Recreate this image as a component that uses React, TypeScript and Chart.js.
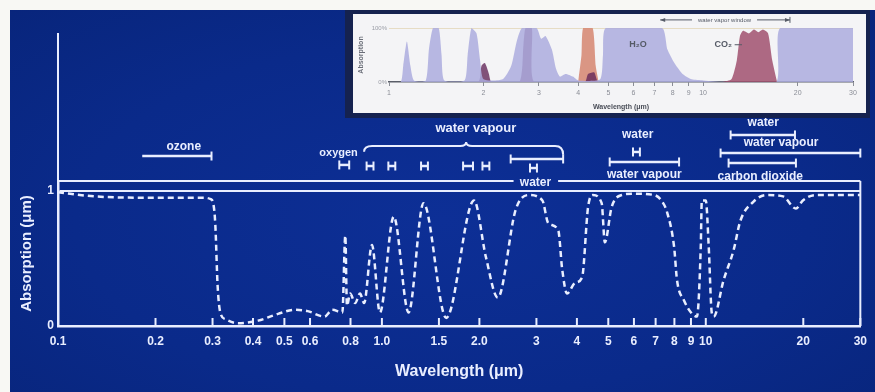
import React, { useEffect, useRef } from 'react';
import { Chart, registerables } from 'chart.js';
Chart.register(...registerables);

// ---------- Main spectrum ----------
const wavelength = [0.1, 0.13, 0.19, 0.28, 0.296, 0.302, 0.306, 0.311, 0.317, 0.329, 0.36, 0.415, 0.478, 0.538, 0.59, 0.665, 0.703, 0.755, 0.771, 0.78, 0.798, 0.827, 0.856, 0.881, 0.932, 0.986, 1.088, 1.209, 1.344, 1.58, 1.925, 2.095, 2.279, 2.588, 2.836, 3.13, 3.265, 3.503, 3.603, 3.73, 3.95, 4.15, 4.33, 4.48, 4.77, 4.88, 5.12, 5.5, 6.02, 6.93, 7.29, 7.6, 7.98, 8.15, 8.56, 9.0, 9.39, 9.65, 9.72, 10.0, 10.21, 10.43, 10.58, 11.35, 12.18, 12.79, 14.02, 15.37, 17.32, 18.98, 19.94, 21.85, 30];
const absorption = [0.99, 0.96, 0.95, 0.95, 0.94, 0.9, 0.75, 0.3, 0.1, 0.05, 0.02, 0.04, 0.09, 0.12, 0.11, 0.07, 0.12, 0.1, 0.67, 0.15, 0.24, 0.17, 0.24, 0.17, 0.6, 0.1, 0.81, 0.1, 0.91, 0.06, 0.93, 0.51, 0.21, 0.86, 0.97, 0.93, 0.76, 0.71, 0.42, 0.24, 0.32, 0.36, 0.88, 0.97, 0.91, 0.62, 0.88, 0.97, 0.98, 0.97, 0.93, 0.84, 0.59, 0.34, 0.19, 0.1, 0.07, 0.59, 0.93, 0.93, 0.59, 0.1, 0.07, 0.34, 0.56, 0.78, 0.92, 0.97, 0.96, 0.87, 0.93, 0.97, 0.97];

const xTickValues = [0.1, 0.2, 0.3, 0.4, 0.5, 0.6, 0.8, 1.0, 1.5, 2.0, 3, 4, 5, 6, 7, 8, 9, 10, 20, 30];
const xTickLabels = ['0.1', '0.2', '0.3', '0.4', '0.5', '0.6', '0.8', '1.0', '1.5', '2.0', '3', '4', '5', '6', '7', '8', '9', '10', '20', '30'];
const yTickValues = [0, 1];
const yTickLabels = ['0', '1'];

// Band annotations above the plot: wavelength (µm) and height in absorption units
const annotationTexts = [
  { text: 'ozone', x: 0.2445, y: 1.33, size: 12 },
  { text: 'oxygen', x: 0.735, y: 1.28, size: 11 },
  { text: 'water vapour', x: 1.95, y: 1.467, size: 13 },
  { text: 'water', x: 2.98, y: 1.059, size: 12 },
  { text: 'water', x: 6.16, y: 1.415, size: 12 },
  { text: 'water vapour', x: 6.46, y: 1.119, size: 12 },
  { text: 'water', x: 15.05, y: 1.504, size: 12 },
  { text: 'water vapour', x: 17.08, y: 1.356, size: 12 },
  { text: 'carbon dioxide', x: 14.73, y: 1.104, size: 12 },
];
const annotationBars = [
  { x0: 0.182, x1: 0.2978, y: 1.259, capL: false, capR: true },
  { x0: 0.7388, x1: 0.7926, y: 1.193, capL: true, capR: true },
  { x0: 0.897, x1: 0.942, y: 1.185, capL: true, capR: true },
  { x0: 1.047, x1: 1.1, y: 1.185, capL: true, capR: true },
  { x0: 1.321, x1: 1.387, y: 1.185, capL: true, capR: true },
  { x0: 1.781, x1: 1.911, y: 1.185, capL: true, capR: true },
  { x0: 2.044, x1: 2.147, y: 1.185, capL: true, capR: true },
  { x0: 2.498, x1: 3.627, y: 1.237, capL: true, capR: true },
  { x0: 2.866, x1: 3.011, y: 1.17, capL: true, capR: true },
  { x0: 5.96, x1: 6.26, y: 1.289, capL: true, capR: true },
  { x0: 5.05, x1: 8.27, y: 1.215, capL: true, capR: true },
  { x0: 11.93, x1: 18.85, y: 1.415, capL: true, capR: true },
  { x0: 11.11, x1: 30, y: 1.281, capL: true, capR: true },
  { x0: 11.76, x1: 18.98, y: 1.207, capL: true, capR: true },
];
const waterVapourBrace = { x0: 0.881, xm: 1.82, x1: 3.627, yEnd: 1.29, yMid: 1.333, yPeak: 1.363 };
const topGap = [2.55, 3.5];
const axisTop = 2.17;

// ---------- Inset spectrum ----------
const insetH2oLambda = [1.0, 1.09, 1.11, 1.14, 1.17, 1.2, 1.31, 1.34, 1.38, 1.44, 1.47, 1.5, 1.74, 1.78, 1.83, 1.9, 1.95, 2.0, 2.3, 2.45, 2.55, 2.65, 2.95, 3.05, 3.15, 3.3, 3.4, 3.5, 3.65, 3.85, 4.0, 4.7, 4.8, 4.9, 7.4, 7.7, 8.1, 8.6, 9.2, 10, 12, 17.1, 17.6, 30];
const insetH2oValue = [0, 0, 0.3, 0.75, 0.3, 0.03, 0.03, 0.6, 1.0, 1.0, 0.5, 0.03, 0.03, 0.5, 1.0, 0.9, 0.4, 0.05, 0.05, 0.3, 0.75, 1.0, 1.0, 0.8, 0.85, 0.6, 0.25, 0.1, 0.15, 0.1, 0.03, 0.05, 0.5, 1.0, 1.0, 0.6, 0.35, 0.15, 0.05, 0.03, 0, 0, 1.0, 1.0];
const insetCo2Lambda = [1.0, 1.92, 1.97, 2.02, 2.08, 2.12, 2.6, 2.68, 2.72, 2.85, 2.9, 4.2, 4.3, 4.5, 4.65, 30];
const insetCo2Value = [0, 0, 0.3, 0.35, 0.15, 0, 0, 0.7, 1.0, 1.0, 0, 0, 0.15, 0.18, 0, 0];
const insetBand43Lambda = [4.0, 4.1, 4.15, 4.45, 4.55, 4.65];
const insetBand43Value = [0, 0.5, 1.0, 1.0, 0.3, 0];
const insetCo2LongLambda = [11.5, 12.3, 12.8, 13.1, 13.4, 14.0, 14.5, 15.0, 15.5, 16.1, 16.6, 17.2];
const insetCo2LongValue = [0, 0.05, 0.4, 0.85, 0.95, 0.9, 0.97, 0.92, 0.97, 0.9, 0.4, 0];
const insetTickValues = [1, 2, 3, 4, 5, 6, 7, 8, 9, 10, 20, 30];
const insetTickLabels = ['1', '2', '3', '4', '5', '6', '7', '8', '9', '10', '20', '30'];
const insetYTickValues = [0, 1];
const insetYTickLabels = ['0%', '100%'];

const WHITE = '#e9eeff';
const FONT = '"Liberation Sans", Arial, sans-serif';

const pts = (xs: number[], ys: number[]) => xs.map((x, i) => ({ x, y: ys[i] }));

const mainDecor = {
  id: 'mainDecor',
  afterDraw(chart: any) {
    const { ctx, chartArea: ca, scales } = chart;
    const x = scales.x, y = scales.y;
    const seg = (a: number, b: number, c: number, d: number) => {
      ctx.beginPath(); ctx.moveTo(a, b); ctx.lineTo(c, d); ctx.stroke();
    };
    ctx.save();
    ctx.strokeStyle = WHITE;
    ctx.lineWidth = 2;
    xTickValues.forEach((v) => {
      const px = x.getPixelForValue(v);
      seg(px, ca.bottom, px, ca.bottom - 8);
    });
    seg(ca.right, ca.top, ca.right, ca.bottom);
    const g0 = x.getPixelForValue(topGap[0]);
    const g1 = x.getPixelForValue(topGap[1]);
    seg(ca.left, ca.top, g0, ca.top);
    seg(g1, ca.top, ca.right, ca.top);
    seg(ca.left, y.getPixelForValue(axisTop), ca.left, ca.top);

    // bars
    annotationBars.forEach((b) => {
      const a = x.getPixelForValue(b.x0);
      const c = Math.min(x.getPixelForValue(b.x1), ca.right);
      const py = y.getPixelForValue(b.y);
      ctx.lineWidth = 2.5;
      seg(a, py, c, py);
      ctx.lineWidth = 2;
      if (b.capL) seg(a, py - 4.5, a, py + 4.5);
      if (b.capR) seg(c, py - 4.5, c, py + 4.5);
    });
    // brace
    const br = waterVapourBrace;
    const bx0 = x.getPixelForValue(br.x0), bxm = x.getPixelForValue(br.xm), bx1 = x.getPixelForValue(br.x1);
    const yE = y.getPixelForValue(br.yEnd), yM = y.getPixelForValue(br.yMid), yP = y.getPixelForValue(br.yPeak);
    ctx.lineWidth = 2;
    ctx.beginPath();
    ctx.moveTo(bx0, yE);
    ctx.quadraticCurveTo(bx0, yM, bx0 + 8, yM);
    ctx.lineTo(bxm - 6, yM);
    ctx.quadraticCurveTo(bxm, yM, bxm, yP);
    ctx.quadraticCurveTo(bxm, yM, bxm + 6, yM);
    ctx.lineTo(bx1 - 8, yM);
    ctx.quadraticCurveTo(bx1, yM, bx1, yE + 3);
    ctx.stroke();

    // texts
    ctx.fillStyle = WHITE;
    ctx.textAlign = 'center';
    ctx.textBaseline = 'middle';
    annotationTexts.forEach((t) => {
      ctx.font = `bold ${t.size}px ${FONT}`;
      ctx.fillText(t.text, x.getPixelForValue(t.x), y.getPixelForValue(t.y));
    });
    ctx.restore();
  },
};

const insetDecor = {
  id: 'insetDecor',
  afterDraw(chart: any) {
    const { ctx, scales } = chart;
    const x = scales.x, y = scales.y;
    ctx.save();
    ctx.fillStyle = '#555a66';
    ctx.font = `bold 9px ${FONT}`;
    ctx.textAlign = 'center';
    ctx.textBaseline = 'middle';
    ctx.fillText('H₂O', x.getPixelForValue(6.2), y.getPixelForValue(0.69));
    ctx.fillText('CO₂', x.getPixelForValue(11.6), y.getPixelForValue(0.69));
    ctx.strokeStyle = '#555a66';
    ctx.lineWidth = 1;
    const cy = y.getPixelForValue(0.69);
    ctx.beginPath(); ctx.moveTo(x.getPixelForValue(12.6), cy); ctx.lineTo(x.getPixelForValue(13.3), cy); ctx.stroke();
    // water vapor window arrows
    const wy = y.getPixelForValue(1.15);
    const ax0 = x.getPixelForValue(7.3), ax1 = x.getPixelForValue(18.9);
    const tx = x.getPixelForValue(11.7);
    ctx.font = `6px ${FONT}`;
    ctx.fillText('water vapor window', tx, wy);
    const tw = ctx.measureText('water vapor window').width;
    ctx.beginPath();
    ctx.moveTo(ax0, wy); ctx.lineTo(tx - tw / 2 - 6, wy);
    ctx.moveTo(tx + tw / 2 + 6, wy); ctx.lineTo(ax1, wy);
    ctx.moveTo(ax1, wy - 3); ctx.lineTo(ax1, wy + 3);
    ctx.stroke();
    ctx.beginPath();
    ctx.moveTo(ax0, wy); ctx.lineTo(ax0 + 5, wy - 2); ctx.lineTo(ax0 + 5, wy + 2); ctx.closePath();
    ctx.moveTo(ax1, wy); ctx.lineTo(ax1 - 5, wy - 2); ctx.lineTo(ax1 - 5, wy + 2); ctx.closePath();
    ctx.fill();
    ctx.restore();
  },
};

export default function App() {
  const mainRef = useRef<HTMLCanvasElement>(null);
  const insetRef = useRef<HTMLCanvasElement>(null);

  useEffect(() => {
    const tickFont = { family: FONT, weight: 'bold' as const, size: 12 };
    const main = new Chart(mainRef.current as HTMLCanvasElement, {
      type: 'line',
      data: {
        datasets: [
          {
            data: pts(wavelength, absorption),
            borderColor: WHITE,
            borderWidth: 2.5,
            borderDash: [6, 4],
            pointRadius: 0,
            fill: false,
            cubicInterpolationMode: 'monotone',
          },
        ],
      },
      options: {
        responsive: false,
        animation: false,
        devicePixelRatio: 1,
        layout: { padding: { left: 10, right: 7, top: 181, bottom: 10 } },
        plugins: { legend: { display: false }, tooltip: { enabled: false } },
        scales: {
          x: {
            type: 'logarithmic',
            min: 0.1,
            max: 30,
            afterBuildTicks: (s: any) => { s.ticks = xTickValues.map((v) => ({ value: v })); },
            afterFit: (s: any) => { s.height = 56; },
            ticks: {
              autoSkip: false, maxRotation: 0, minRotation: 0, color: WHITE, font: tickFont, padding: 8,
              callback: (_v: any, i: number) => xTickLabels[i],
            },
            grid: { display: false, drawTicks: false },
            border: { display: true, color: WHITE, width: 2.5 },
            title: { display: true, text: 'Wavelength (μm)', color: WHITE, font: { family: FONT, weight: 'bold', size: 16 }, padding: { top: 0, bottom: 1 } },
          },
          y: {
            min: 0,
            max: 1.074,
            afterBuildTicks: (s: any) => { s.ticks = yTickValues.map((v) => ({ value: v })); },
            afterFit: (s: any) => { s.width = 48; },
            ticks: { color: WHITE, font: tickFont, padding: 4, callback: (_v: any, i: number) => yTickLabels[i] },
            grid: {
              drawTicks: false,
              lineWidth: 2,
              color: (c: any) => (c.tick && c.tick.value === 1 ? WHITE : 'rgba(0,0,0,0)'),
            },
            border: { display: true, color: WHITE, width: 2.5 },
            title: { display: true, text: 'Absorption (μm)', color: WHITE, font: { family: FONT, weight: 'bold', size: 15 }, padding: { top: 8, bottom: 0 } },
          },
        },
      },
      plugins: [mainDecor],
    } as any);

    const insetFont = { family: FONT, size: 7 };
    const fillSet = (xs: number[], ys: number[], color: string) => ({
      data: pts(xs, ys),
      backgroundColor: color,
      borderColor: color,
      borderWidth: 0,
      pointRadius: 0,
      fill: 'origin',
      tension: 0.2,
    });
    const inset = new Chart(insetRef.current as HTMLCanvasElement, {
      type: 'line',
      data: {
        datasets: [
          fillSet(insetH2oLambda, insetH2oValue, 'rgba(172,172,222,0.85)'),
          fillSet(insetCo2Lambda, insetCo2Value, 'rgba(100,40,90,0.8)'),
          fillSet(insetBand43Lambda, insetBand43Value, 'rgba(215,140,120,0.9)'),
          fillSet(insetCo2LongLambda, insetCo2LongValue, 'rgba(160,80,110,0.85)'),
        ],
      },
      options: {
        responsive: false,
        animation: false,
        devicePixelRatio: 1,
        layout: { padding: { left: 3, right: 13, top: 14, bottom: 1 } },
        plugins: { legend: { display: false }, tooltip: { enabled: false } },
        scales: {
          x: {
            type: 'logarithmic',
            min: 1,
            max: 30,
            afterBuildTicks: (s: any) => { s.ticks = insetTickValues.map((v) => ({ value: v })); },
            afterFit: (s: any) => { s.height = 30; },
            ticks: { autoSkip: false, maxRotation: 0, minRotation: 0, color: '#8a8d96', font: insetFont, padding: 3, callback: (_v: any, i: number) => insetTickLabels[i] },
            grid: { display: true, drawOnChartArea: false, drawTicks: true, tickLength: 4, color: '#8a8d96' },
            border: { display: true, color: '#5a5e68', width: 1.5 },
            title: { display: true, text: 'Wavelength (μm)', color: '#4a4e58', font: { family: FONT, weight: 'bold', size: 7 }, padding: { top: 0, bottom: 1 } },
          },
          y: {
            min: 0,
            max: 1,
            afterBuildTicks: (s: any) => { s.ticks = insetYTickValues.map((v) => ({ value: v })); },
            afterFit: (s: any) => { s.width = 33; },
            ticks: { color: '#9a9da6', font: { family: FONT, size: 6 }, padding: 2, callback: (_v: any, i: number) => insetYTickLabels[i] },
            grid: { drawTicks: false, lineWidth: 1, color: (c: any) => (c.tick && c.tick.value === 1 ? '#e6dcc4' : 'rgba(0,0,0,0)') },
            border: { display: false },
            title: { display: true, text: 'Absorption', color: '#6a6e78', font: { family: FONT, weight: 'bold', size: 7 }, padding: { top: 1, bottom: 0 } },
          },
        },
      },
      plugins: [insetDecor],
    } as any);

    return () => {
      main.destroy();
      inset.destroy();
    };
  }, []);

  return (
    <div style={{ position: 'absolute', left: 0, top: 0, width: 875, height: 392, background: '#f8f8f4', overflow: 'hidden' }}>
      <div style={{ position: 'absolute', left: 10, top: 10, width: 865, height: 382, background: 'radial-gradient(ellipse at 50% 55%, #0d2f96 0%, #0a2a8a 60%, #08257c 100%)' }} />
      <canvas ref={mainRef} width={875} height={392} style={{ position: 'absolute', left: 0, top: 0, width: 875, height: 392 }} />
      <div style={{ position: 'absolute', left: 345, top: 10, width: 525, height: 108, background: '#15224f' }} />
      <div style={{ position: 'absolute', left: 353, top: 14, width: 513, height: 99, background: '#f4f4f6' }}>
        <canvas ref={insetRef} width={513} height={99} style={{ position: 'absolute', left: 0, top: 0, width: 513, height: 99 }} />
      </div>
    </div>
  );
}
